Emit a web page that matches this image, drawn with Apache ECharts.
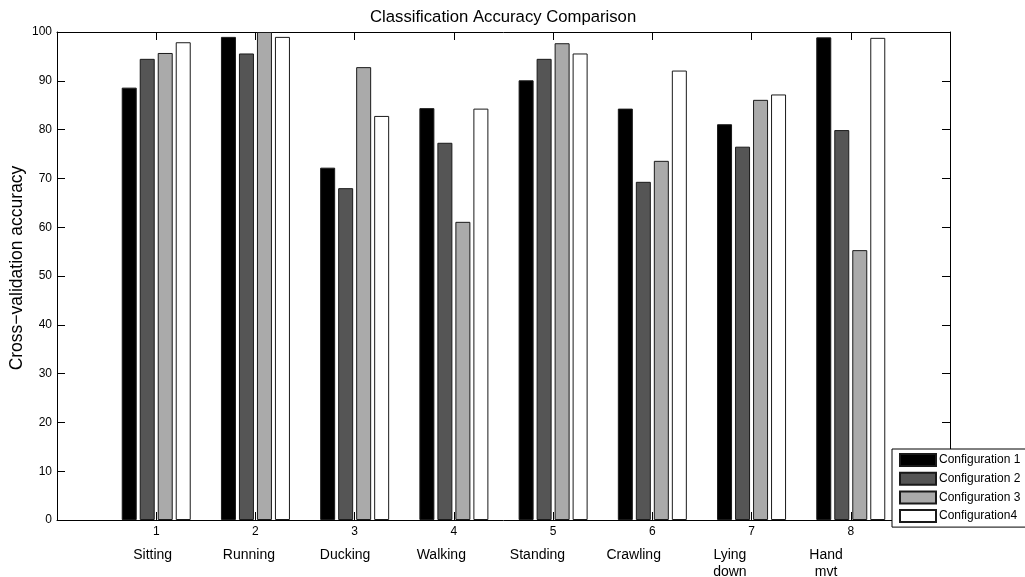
<!DOCTYPE html>
<html>
<head>
<meta charset="utf-8">
<script src="https://cdn.jsdelivr.net/npm/echarts@6/dist/echarts.min.js"></script>
<style>
  html, body { margin: 0; padding: 0; background: #fff; }
  #chart { width: 1025px; height: 577px; }
</style>
</head>
<body>
<div id="chart"></div>
<script>
// Activity classes (x = 1..8) and the cross-validation accuracy of each configuration
const activityIds = [1, 2, 3, 4, 5, 6, 7, 8];
const activityNames = ['Sitting', 'Running', 'Ducking', 'Walking', 'Standing', 'Crawling', 'Lying\ndown', 'Hand\nmvt'];
const seriesNames = ['Configuration 1', 'Configuration 2', 'Configuration 3', 'Configuration4'];
const config1 = [88.6, 99.0, 72.2, 84.4, 90.1, 84.3, 81.1, 98.9];
const config2 = [94.5, 95.6, 68.0, 77.3, 94.5, 69.3, 76.5, 79.9];
const config3 = [95.7, 100.0, 92.8, 61.1, 97.7, 73.6, 86.1, 55.3];
const config4 = [97.9, 99.0, 82.8, 84.3, 95.6, 92.1, 87.2, 98.8];
const yTicks = [0, 10, 20, 30, 40, 50, 60, 70, 80, 90, 100];

const fills = ['#000000', '#555555', '#aaaaaa', '#ffffff'];
const FONT = '"Liberation Sans", Arial, Helvetica, sans-serif';

const chart = echarts.init(document.getElementById('chart'), null, { renderer: 'canvas' });

const allValues = [config1, config2, config3, config4];
const series = allValues.map((vals, k) => ({
  name: seriesNames[k],
  type: 'bar',
  xAxisIndex: 0,
  yAxisIndex: 0,
  barWidth: 15,
  barGap: '20%',
  itemStyle: { color: fills[k], borderColor: '#1a1a1a', borderWidth: 1 },
  data: vals.map((v, i) => [activityIds[i], v])
}));

// box frame: every axis sits on its own grid edge
const frameLine = { show: true, onZero: false, lineStyle: { color: '#000', width: 1 } };
const tickInside = { show: true, inside: true, length: 8, lineStyle: { color: '#000', width: 1 } };

chart.setOption({
  animation: false,
  backgroundColor: '#fff',
  title: {
    text: 'Classification Accuracy Comparison',
    left: 365,
    top: 4,
    textStyle: { fontFamily: FONT, fontSize: 16.7, fontWeight: 'normal', color: '#000' }
  },
  legend: {
    orient: 'vertical',
    left: 892,
    top: 449,
    icon: 'rect',
    itemWidth: 36,
    itemHeight: 12,
    itemGap: 4.7,
    padding: [4, 14, 4, 7],
    borderColor: '#000',
    borderWidth: 1,
    backgroundColor: '#fff',
    textStyle: { fontFamily: FONT, fontSize: 12, lineHeight: 12, color: '#000', padding: [0, 0, 0, -2] },
    data: seriesNames
  },
  grid: [
    { left: 57, right: 75, top: 32, bottom: 57, containLabel: false, outerBoundsMode: 'none' },
    { left: 104.6, width: 769.6, top: 32, bottom: 57, containLabel: false, outerBoundsMode: 'none' }
  ],
  xAxis: [
    {
      type: 'value', gridIndex: 0, position: 'bottom',
      min: 0, max: 9, interval: 1,
      axisLine: frameLine, axisTick: tickInside, splitLine: { show: false },
      axisLabel: {
        margin: 6, fontFamily: FONT, fontSize: 12, color: '#000',
        formatter: v => (activityIds.indexOf(v) >= 0 ? String(v) : '')
      }
    },
    {
      type: 'value', gridIndex: 0, position: 'top',
      min: 0, max: 9, interval: 1,
      axisLine: frameLine, axisTick: tickInside, splitLine: { show: false },
      axisLabel: { show: false }
    },
    {
      type: 'category', gridIndex: 1, position: 'bottom',
      data: activityNames,
      axisLine: { show: false, onZero: false }, axisTick: { show: false },
      axisLabel: {
        margin: 27, fontFamily: FONT, fontSize: 14, color: '#000', lineHeight: 17,
        interval: 0, verticalAlign: 'top'
      }
    }
  ],
  yAxis: [
    {
      type: 'value', gridIndex: 0, position: 'left',
      min: yTicks[0], max: yTicks[yTicks.length - 1], interval: 10,
      name: 'Cross\u2212validation accuracy',
      nameLocation: 'middle',
      nameGap: 31,
      nameMoveOverlap: false,
      nameTextStyle: { fontFamily: FONT, fontSize: 17.5, color: '#000', padding: [0, 0, 0, 16] },
      axisLine: frameLine, axisTick: tickInside, splitLine: { show: false },
      axisLabel: { margin: 5, fontFamily: FONT, fontSize: 12, color: '#000' }
    },
    {
      type: 'value', gridIndex: 0, position: 'right',
      min: yTicks[0], max: yTicks[yTicks.length - 1], interval: 10,
      axisLine: frameLine, axisTick: tickInside, splitLine: { show: false },
      axisLabel: { show: false }
    },
    {
      type: 'value', gridIndex: 1, show: false
    }
  ],
  series: series
});
</script>
</body>
</html>
